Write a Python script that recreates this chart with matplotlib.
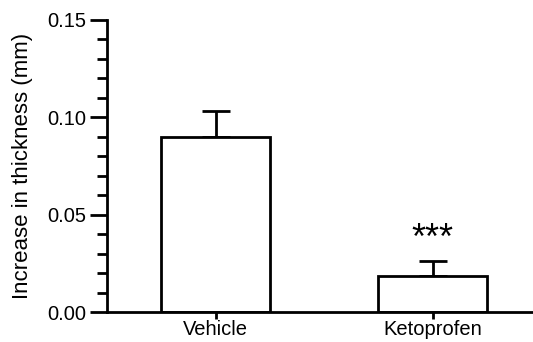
import matplotlib
matplotlib.use("Agg")
import matplotlib.pyplot as plt
from matplotlib.ticker import MultipleLocator

plt.rcParams['font.family'] = ['Liberation Sans', 'DejaVu Sans']

groups = ['Vehicle', 'Ketoprofen']
means = [0.090, 0.0183]
sems = [0.0131, 0.0079]
stars = ['', '***']

fig = plt.figure(figsize=(5.33, 3.42), dpi=100)
ax = fig.add_axes([0.2008, 0.0877, 0.80, 0.854])

x = list(range(len(groups)))
ax.bar(x, means, width=0.5, color='white', edgecolor='black', linewidth=2, zorder=2)
ax.errorbar(x, means, yerr=[[0, 0], sems], fmt='none', ecolor='black',
            elinewidth=2, capsize=10, capthick=2, zorder=1)

for xi, m, s, st in zip(x, means, sems, stars):
    if st:
        ax.text(xi, m + s + 0.0062, st, ha='center', va='baseline', fontsize=26)

ax.set_xlim(-0.5, 1.465)
ax.set_ylim(0, 0.15)
ax.set_xticks(x)
ax.set_xticklabels(groups, fontsize=14.5)
ax.yaxis.set_minor_locator(MultipleLocator(0.01))
ax.set_yticks([0, 0.05, 0.10, 0.15])
ax.set_yticklabels(['0.00', '0.05', '0.10', '0.15'])
ax.set_ylabel('Increase in thickness (mm)', fontsize=16, labelpad=10)

for sp in ['top', 'right']:
    ax.spines[sp].set_visible(False)
for sp in ['left', 'bottom']:
    ax.spines[sp].set_linewidth(2)

ax.tick_params(axis='y', which='major', length=12, width=2, labelsize=14.5, pad=3)
ax.tick_params(axis='y', which='minor', length=7, width=2)
ax.tick_params(axis='x', which='major', length=5, width=2, pad=1)
ax.tick_params(axis='x', which='minor', length=0)

fig.savefig('out.png', dpi=100)
